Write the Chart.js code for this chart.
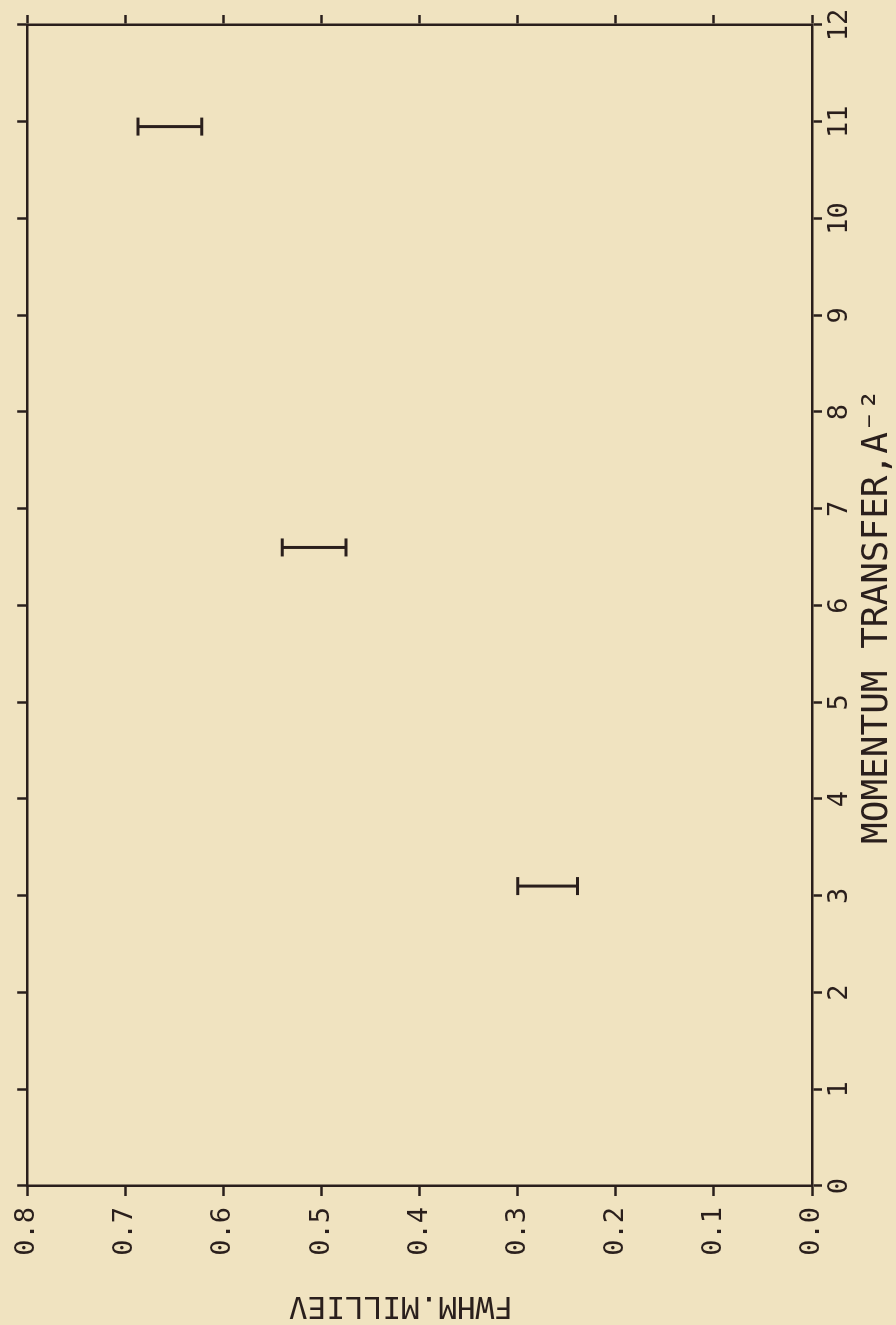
<!DOCTYPE html>
<html>
<head>
<meta charset="utf-8">
<script src="https://cdn.jsdelivr.net/npm/chart.js@4.4.1/dist/chart.umd.min.js"></script>
<style>
  html, body { margin: 0; padding: 0; background: #f0e3c0; overflow: hidden; width: 896px; height: 1325px; }
  #wrap { position: absolute; left: 0; top: 0; width: 1325px; height: 896px;
          transform-origin: 0 0; transform: translateY(1325px) rotate(-90deg); background: #f0e3c0; }
</style>
</head>
<body>
<div id="wrap"><canvas id="c" width="1325" height="896"></canvas></div>
<script>
// Data (momentum transfer in A^-2, FWHM in milli-eV)
const momentum = [3.1, 6.6, 10.95];
const fwhmLow  = [0.239, 0.475, 0.622];
const fwhmHigh = [0.300, 0.540, 0.687];

const xTicks = [0,1,2,3,4,5,6,7,8,9,10,11,12];
const yTicks = [0.0,0.1,0.2,0.3,0.4,0.5,0.6,0.7,0.8];

const xTitle = 'MOMENTUM TRANSFER,A\u207B\u00B2 ';
const yTitle = '  FWHM.MILLIEV';

const INK = '#2a1f1c';
const FONT = 'DejaVu Sans Mono';

const datasets = momentum.map((m, i) => ({
  data: [{x: m, y: fwhmLow[i]}, {x: m, y: fwhmHigh[i]}],
  showLine: true,
  borderColor: INK,
  borderWidth: 3,
  pointStyle: 'line',
  pointRadius: 9,
  pointBorderWidth: 3,
  pointBorderColor: INK,
  pointBackgroundColor: INK,
  fill: false
}));

const gridCommon = { drawOnChartArea: false, drawTicks: true, tickLength: 10, tickColor: INK, tickWidth: 2.5 };
const borderCommon = { display: true, color: INK, width: 2.5 };

new Chart(document.getElementById('c'), {
  type: 'scatter',
  data: { datasets },
  options: {
    responsive: false,
    animation: false,
    devicePixelRatio: 1,
    layout: { padding: 0 },
    plugins: { legend: { display: false }, tooltip: { enabled: false } },
    scales: {
      x: {
        type: 'linear', position: 'bottom', min: 0, max: 12,
        afterBuildTicks: s => { s.ticks = xTicks.map(v => ({value: v})); },
        ticks: { color: INK, font: { family: FONT, size: 27 }, padding: 2, callback: v => String(v) },
        grid: gridCommon, border: borderCommon,
        title: { display: true, text: xTitle, color: INK,
                 font: { family: FONT, size: 36, lineHeight: 1 }, padding: { top: 0, bottom: 0 } },
        afterFit: s => { s.height = 84; }
      },
      x2: {
        type: 'linear', axis: 'x', position: 'top', min: 0, max: 12,
        afterBuildTicks: s => { s.ticks = xTicks.map(v => ({value: v})); },
        ticks: { display: false },
        grid: gridCommon, border: borderCommon,
        afterFit: s => { s.height = 24; }
      },
      y: {
        type: 'linear', position: 'left', min: 0, max: 0.8,
        afterBuildTicks: s => { s.ticks = yTicks.map(v => ({value: v})); },
        ticks: { color: INK, font: { family: FONT, size: 27 }, padding: 11, callback: v => Number(v).toFixed(1) },
        grid: gridCommon, border: borderCommon,
        title: { display: true, text: yTitle, color: INK,
                 font: { family: FONT, size: 31, lineHeight: 0.75 }, padding: { top: 8, bottom: 0 } },
        afterFit: s => { s.width = 139; }
      },
      y2: {
        type: 'linear', axis: 'y', position: 'right', min: 0, max: 0.8,
        afterBuildTicks: s => { s.ticks = yTicks.map(v => ({value: v})); },
        ticks: { display: false },
        grid: gridCommon, border: borderCommon,
        afterFit: s => { s.width = 25; }
      }
    }
  }
});
</script>
</body>
</html>
